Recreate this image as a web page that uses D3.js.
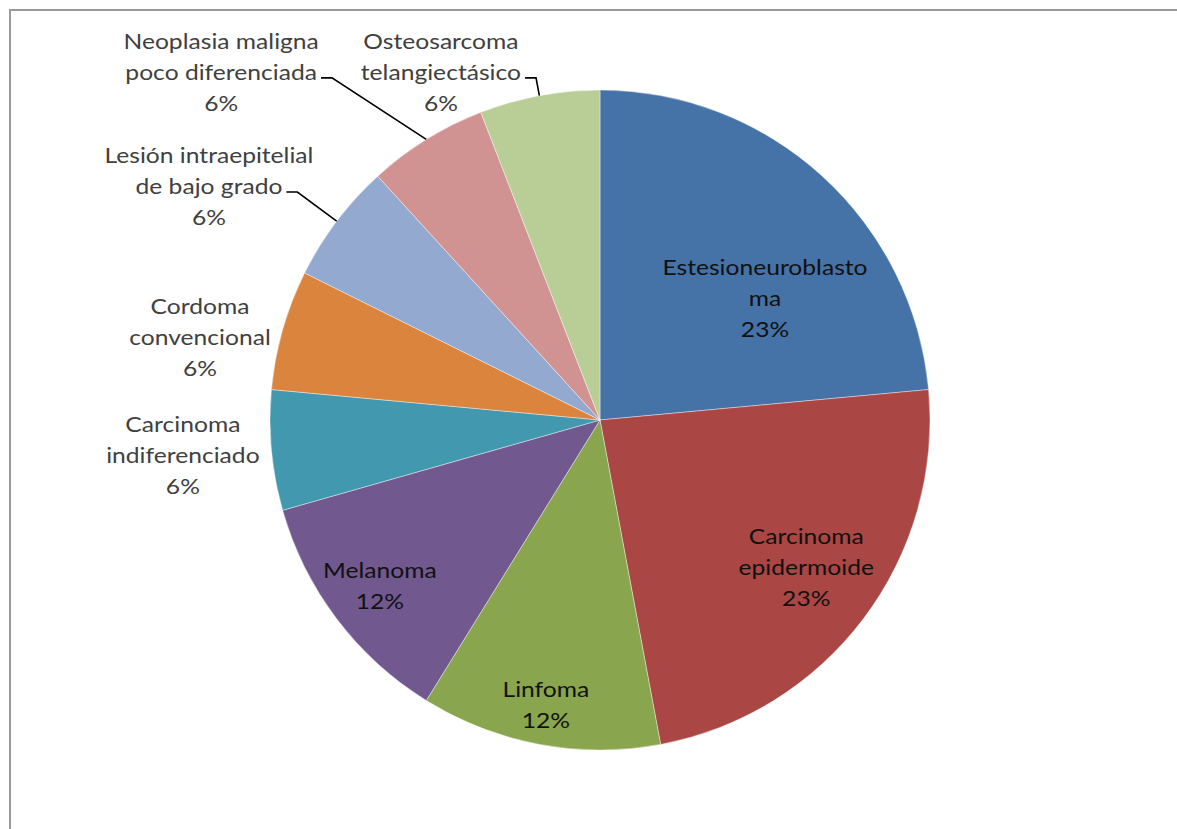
<!DOCTYPE html>
<html>
<head>
<meta charset="utf-8">
<script src="https://cdn.jsdelivr.net/npm/d3@7"></script>
<style>
  html, body { margin: 0; padding: 0; background: #fff; }
  svg text { font-family: Lato, "Open Sans", sans-serif; }
</style>
</head>
<body>
<svg id="chart" width="1177" height="829"></svg>
<script>
// data
var labels = [
  ["Estesioneuroblasto", "ma"],
  ["Carcinoma", "epidermoide"],
  ["Linfoma"],
  ["Melanoma"],
  ["Carcinoma", "indiferenciado"],
  ["Cordoma", "convencional"],
  ["Lesión intraepitelial", "de bajo grado"],
  ["Neoplasia maligna", "poco diferenciada"],
  ["Osteosarcoma", "telangiectásico"]
];
var counts = [4, 4, 2, 2, 1, 1, 1, 1, 1];
var percents = ["23%", "23%", "12%", "12%", "6%", "6%", "6%", "6%", "6%"];

var colors = ["#4572A7", "#AA4643", "#89A54E", "#71588F", "#4198AF",
              "#DB843D", "#93A9CF", "#D19392", "#B9CD96"];

// label layout, relative to pie centre in radius units
var labelPos = [
  [0.50, -0.37], [0.625, 0.445], [-0.164, 0.864], [-0.667, 0.503],
  [-1.264, 0.106], [-1.212, -0.252], [-1.185, -0.709], [-1.148, -1.055], [-0.482, -1.055]
];
var inside = [true, true, true, true, false, false, false, false, false];
var leader = [false, false, false, false, false, false, true, true, true];

const cx = 600, cy = 420, radius = 330;
const lineH = 31;
const stretch = 1.12; // text in the source is a bit wider than Lato

var svg = d3.select("#chart");

// outer frame
svg.append("rect")
  .attr("x", 10).attr("y", 10)
  .attr("width", 1200).attr("height", 900)
  .attr("fill", "none")
  .attr("stroke", "#9a9a9a")
  .attr("stroke-width", 2);

var data = counts.map(function (c, i) {
  return {name: labels[i], value: c, pct: percents[i], i: i};
});

var pie = d3.pie().sort(null).value(function (d) { return d.value; });
var arc = d3.arc().innerRadius(0).outerRadius(radius);

var g = svg.append("g").attr("transform", "translate(" + cx + "," + cy + ")");

var arcs = pie(data);

g.selectAll("path.slice")
  .data(arcs)
  .enter()
  .append("path")
  .attr("class", "slice")
  .attr("d", arc)
  .attr("fill", function (d) { return colors[d.data.i]; })
  .attr("stroke", "#fff")
  .attr("stroke-opacity", 0.5)
  .attr("stroke-width", 0.8);

// labels
var lab = g.selectAll("g.label")
  .data(arcs)
  .enter()
  .append("g")
  .attr("class", "label")
  .attr("transform", function (d) {
    var p = labelPos[d.data.i];
    return "translate(" + (p[0] * radius) + "," + (p[1] * radius) + ")";
  });

lab.each(function (d) {
  var lines = d.data.name.concat([d.data.pct]);
  var sel = d3.select(this);
  var n = lines.length;
  lines.forEach(function (t, k) {
    sel.append("text")
      .attr("x", 0)
      .attr("y", (k - (n - 1) / 2) * lineH)
      .attr("dy", "0.35em")
      .attr("transform", "scale(" + stretch + ",1)")
      .attr("text-anchor", "middle")
      .attr("font-size", 22)
      .attr("fill", inside[d.data.i] ? "#111" : "#404040")
      .text(t);
  });
});

// leader lines
arcs.forEach(function (d) {
  if (!leader[d.data.i]) return;
  var p = labelPos[d.data.i];
  var lx = p[0] * radius, ly = p[1] * radius;
  var node = lab.filter(function (e) { return e.data.i === d.data.i; })
    .selectAll("text").nodes()[1];
  var w = node.getComputedTextLength() * stretch;
  var x0 = lx + w / 2 + 4, y0 = ly + 6;
  var mid = (d.startAngle + d.endAngle) / 2;
  var ex = radius * Math.sin(mid), ey = -radius * Math.cos(mid);
  g.append("path")
    .attr("d", d3.line()([[x0, y0], [x0 + 11, y0], [ex, ey]]))
    .attr("fill", "none")
    .attr("stroke", "#000")
    .attr("stroke-width", 1.6);
});
</script>
</body>
</html>
